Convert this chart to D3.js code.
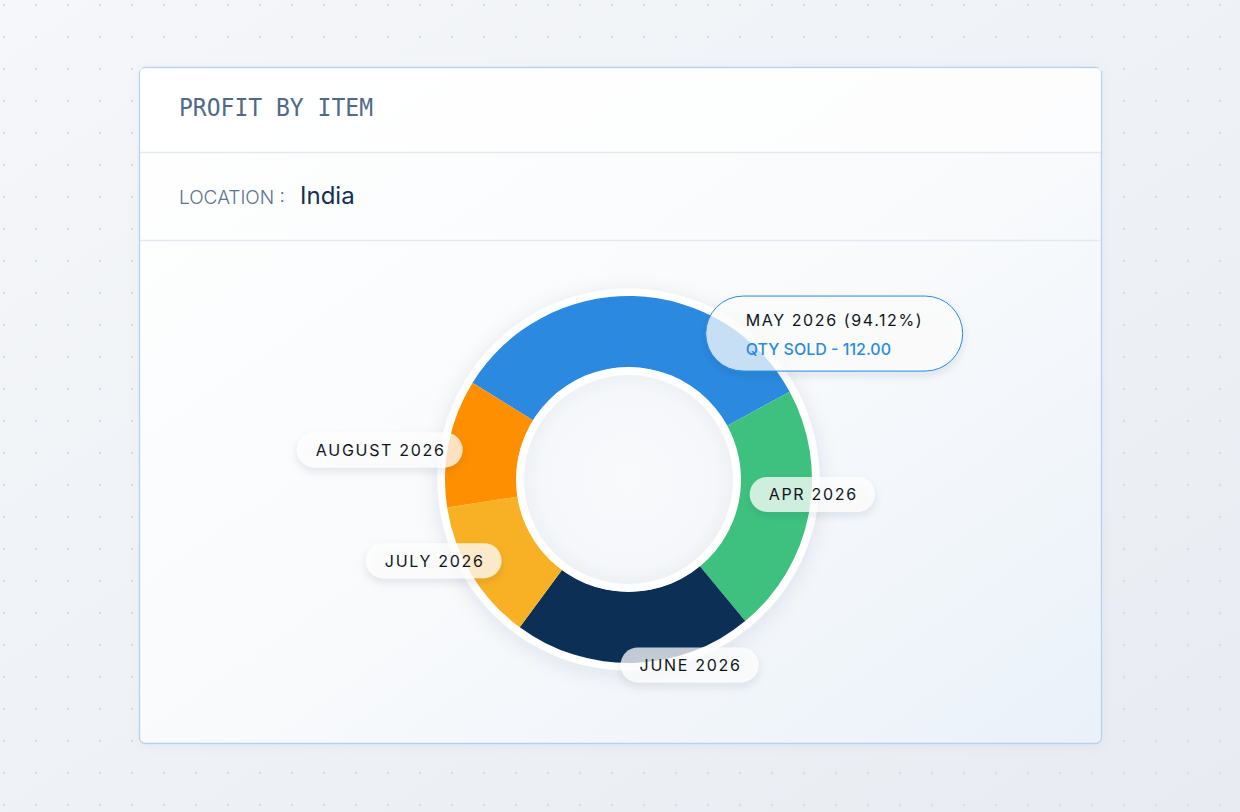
<!DOCTYPE html>
<html>
<head>
<meta charset="utf-8">
<script src="https://cdn.jsdelivr.net/npm/d3@7"></script>
<style>
  body { margin: 0; background: #f1f4f8; }
  svg { display: block; }
</style>
</head>
<body>
<div id="chart"></div>
<script>
// data
const months = ["MAY 2026", "APR 2026", "JUNE 2026", "JULY 2026", "AUGUST 2026"];
const qtySold = [112, 74, 71, 42, 38];
const sliceColors = ["#2b8ae0", "#3ec17f", "#0c2f56", "#f8b124", "#fe8f00"];

const chartTitle = "PROFIT BY ITEM";
const locationLabel = "LOCATION :";
const locationName = "India";

// hovered slice tooltip
const tipMonth = "MAY 2026";
const tipShare = "94.12%";
const tipQty = 112;

var W = 1240, H = 812;
var cx = 628.5, cy = 479.5;
var outerR = 183.5, innerR = 112;
var startDeg = -58.2;

// small nudges for the label pills, relative to the slice edge point
var labelNudge = { "APR 2026": [-59, -20], "JUNE 2026": [-13, 2], "JULY 2026": [30, -14], "AUGUST 2026": [14, 7] };

var data = months.map(function (m, i) { return { month: m, qty: qtySold[i], color: sliceColors[i] }; });

var svg = d3.select("#chart").append("svg")
  .attr("width", W).attr("height", H);

var defs = svg.append("defs");

// page background
var bg = defs.append("linearGradient").attr("id", "pageBg")
  .attr("x1", 0).attr("y1", 0).attr("x2", 1).attr("y2", 1);
bg.append("stop").attr("offset", "0%").attr("stop-color", "#f5f7fa");
bg.append("stop").attr("offset", "100%").attr("stop-color", "#e8ecf2");

var dots = defs.append("pattern").attr("id", "dots")
  .attr("width", 32).attr("height", 32).attr("patternUnits", "userSpaceOnUse")
  .attr("x", -12).attr("y", -11);
dots.append("circle").attr("cx", 16).attr("cy", 16).attr("r", 1.2).attr("fill", "#d6dce3");

// card gradient
var cg = defs.append("linearGradient").attr("id", "cardBg")
  .attr("x1", 0).attr("y1", 0).attr("x2", 1).attr("y2", 1);
cg.append("stop").attr("offset", "0%").attr("stop-color", "#ffffff");
cg.append("stop").attr("offset", "55%").attr("stop-color", "#f8fafc");
cg.append("stop").attr("offset", "100%").attr("stop-color", "#eaf1f9");

var hole = defs.append("radialGradient").attr("id", "holeBg")
  .attr("cx", "50%").attr("cy", "50%").attr("r", "50%");
hole.append("stop").attr("offset", "0%").attr("stop-color", "#f9fafc");
hole.append("stop").attr("offset", "85%").attr("stop-color", "#f5f7fa");
hole.append("stop").attr("offset", "100%").attr("stop-color", "#eef1f5");

function shadow(id, dy, sd, op) {
  var f = defs.append("filter").attr("id", id)
    .attr("x", "-30%").attr("y", "-30%").attr("width", "160%").attr("height", "180%");
  f.append("feDropShadow").attr("dx", 0).attr("dy", dy).attr("stdDeviation", sd)
    .attr("flood-color", "#1c2f4a").attr("flood-opacity", op);
}
shadow("ringShadow", 4, 10, 0.10);
shadow("pillShadow", 4, 4, 0.13);
shadow("cardShadow", 2, 6, 0.04);

svg.append("rect").attr("width", W).attr("height", H).attr("fill", "url(#pageBg)");
svg.append("rect").attr("width", W).attr("height", H).attr("fill", "url(#dots)");

// card
svg.append("rect")
  .attr("x", 139.5).attr("y", 67.5).attr("width", 962).attr("height", 676).attr("rx", 6)
  .attr("fill", "url(#cardBg)").attr("stroke", "#b3d2f1").attr("stroke-width", 1.3)
  .attr("filter", "url(#cardShadow)");

svg.append("rect").attr("x", 140).attr("y", 68).attr("width", 961).attr("height", 84)
  .attr("fill", "#ffffff").attr("opacity", 0.6);

[152.5, 240.5].forEach(function (y) {
  svg.append("line").attr("x1", 140).attr("x2", 1101).attr("y1", y).attr("y2", y)
    .attr("stroke", "#e4e9ef").attr("stroke-width", 1.5);
});

svg.append("text")
  .attr("x", 179).attr("y", 116)
  .attr("font-family", "DejaVu Sans Mono, Liberation Mono, monospace")
  .attr("font-size", 24).attr("fill", "#4f6a87")
  .attr("textLength", 194).attr("lengthAdjust", "spacingAndGlyphs")
  .text(chartTitle);

svg.append("text")
  .attr("x", 179).attr("y", 204)
  .attr("font-family", "Inter, Lato, sans-serif").attr("font-weight", 300)
  .attr("font-size", 19).attr("fill", "#5a738e")
  .text(locationLabel);

svg.append("text")
  .attr("x", 300).attr("y", 204)
  .attr("font-family", "Inter, Lato, sans-serif").attr("font-weight", 400)
  .attr("font-size", 24).attr("fill", "#15304f")
  .text(locationName);

// donut
var g = svg.append("g").attr("transform", "translate(" + cx + "," + cy + ")");

g.append("circle").attr("r", outerR + 7.5).attr("fill", "#ffffff").attr("filter", "url(#ringShadow)");

var pie = d3.pie().value(function (d) { return d.qty; })
  .startAngle(startDeg * Math.PI / 180)
  .endAngle(startDeg * Math.PI / 180 + 2 * Math.PI);
var arcs = pie(data);

var arc = d3.arc().innerRadius(innerR).outerRadius(outerR);
var edgeArc = d3.arc().innerRadius(outerR).outerRadius(outerR);

g.selectAll("path.slice")
  .data(arcs)
  .enter()
  .append("path")
  .attr("class", "slice")
  .attr("d", arc)
  .attr("fill", function (d) { return d.data.color; });

g.append("circle").attr("r", innerR + 0.5).attr("fill", "#ffffff");
g.append("circle").attr("r", innerR - 7.5).attr("fill", "url(#holeBg)");

// label pills
var labelFont = "Inter, Lato, sans-serif";
arcs.forEach(function (d) {
  if (d.data.month === tipMonth) return;
  var p = edgeArc.centroid(d);
  var mid = (d.startAngle + d.endAngle) / 2;
  var nudge = labelNudge[d.data.month] || [0, 0];
  var ex = cx + p[0] + nudge[0], ey = cy + p[1] + nudge[1];

  var lg = svg.append("g");
  var rect = lg.append("rect").attr("height", 35).attr("rx", 17.5)
    .attr("fill", "#ffffff").attr("fill-opacity", 0.74)
    .attr("filter", "url(#pillShadow)");
  var t = lg.append("text")
    .attr("font-family", labelFont).attr("font-weight", 400)
    .attr("font-size", 16).attr("letter-spacing", 1.7)
    .attr("fill", "#10151c")
    .text(d.data.month);
  var tw = t.node().getComputedTextLength();
  var pw = tw + 36;
  var left = Math.sin(mid) < 0 ? ex - pw : ex;
  rect.attr("x", left).attr("y", ey - 17.5).attr("width", pw);
  t.attr("x", left + 19).attr("y", ey + 6);
});

// tooltip for the hovered slice
var tipArc = arcs.filter(function (d) { return d.data.month === tipMonth; })[0];
var tp = edgeArc.centroid(tipArc);
var tipX = cx + tp[0] + 72, tipY = cy + tp[1];
var tg = svg.append("g");
tg.append("rect")
  .attr("x", tipX).attr("y", tipY).attr("width", 257).attr("height", 75).attr("rx", 37.5)
  .attr("fill", "#ffffff").attr("fill-opacity", 0.72)
  .attr("stroke", "#2b8ae0").attr("stroke-width", 1)
  .attr("filter", "url(#pillShadow)");
tg.append("text")
  .attr("x", tipX + 40).attr("y", tipY + 30)
  .attr("font-family", labelFont).attr("font-weight", 400)
  .attr("font-size", 16).attr("letter-spacing", 1.6).attr("fill", "#10151c")
  .text(tipMonth + " (" + tipShare + ")");
tg.append("text")
  .attr("x", tipX + 40).attr("y", tipY + 59)
  .attr("font-family", labelFont).attr("font-weight", 500)
  .attr("font-size", 16).attr("fill", "#2b8ae0")
  .text("QTY SOLD - " + d3.format(".2f")(tipQty));
</script>
</body>
</html>
